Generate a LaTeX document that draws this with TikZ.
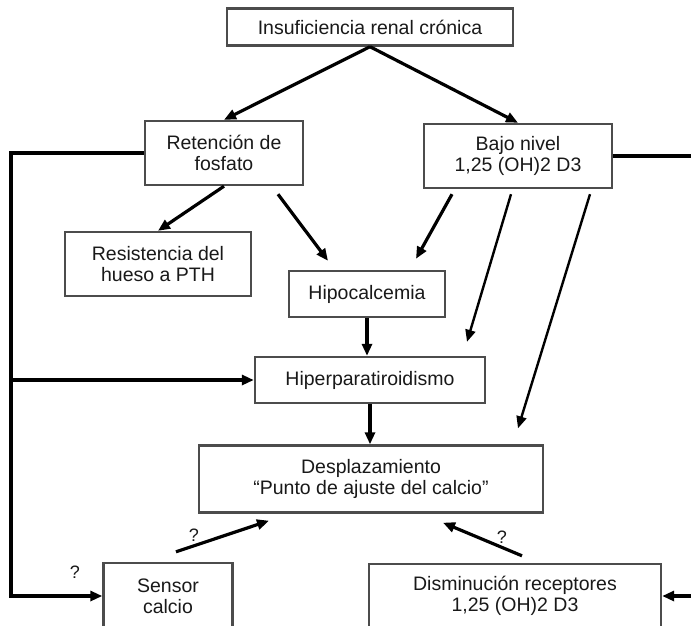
\documentclass[tikz,border=0pt]{standalone}
\usepackage{fontspec}
\setmainfont{Liberation Sans}
\usetikzlibrary{positioning, arrows.meta}

\begin{document}
\begin{tikzpicture}[
    x=1pt, y=-1pt,
    box/.style={draw=black!70, line width=2.4pt, fill=white, align=center, inner sep=0pt,
        text=black!90, font=\fontsize{19.5}{21}\selectfont},
    arr/.style={line width=3.2pt, -{Triangle[length=12pt,width=10pt]}},
    thinarr/.style={line width=2.4pt, -{Triangle[length=12pt,width=10pt]}},
    line/.style={line width=3.2pt},
    qmark/.style={font=\fontsize{18}{18}\selectfont, text=black!90}
]
    \useasboundingbox (0,0) rectangle (691,625);
    \clip (0,0) rectangle (691,625);

    % boxes
    \node[box, minimum width=286pt, minimum height=37pt] (ins) at (370,27) {Insuficiencia renal crónica};
    \node[box, minimum width=158pt, minimum height=64pt] (ret) at (224,153) {Retención de\\fosfato};
    \node[box, minimum width=188pt, minimum height=64pt] (baj) at (518,156) {Bajo nivel\\1,25 (OH)2 D3};
    \node[box, minimum width=186pt, minimum height=64pt] (res) at (158,264) {Resistencia del\\hueso a PTH};
    \node[box, minimum width=156pt, minimum height=46pt] (hipo) at (367,294) {Hipocalcemia};
    \node[box, minimum width=230pt, minimum height=46pt] (hiper) at (370,380) {Hiperparatiroidismo};
    \node[box, minimum width=344pt, minimum height=67pt] (desp) at (371,479) {Desplazamiento\\“Punto de ajuste del calcio”};
    \node[box, minimum width=129pt, minimum height=66pt] (sen) at (168,596) {Sensor\\calcio};
    \node[box, minimum width=292pt, minimum height=64pt] (dis) at (515,596) {Disminución receptores\\1,25 (OH)2 D3};

    % side rails
    \coordinate (lx) at (11,0);
    \coordinate (rx) at (691,0);

    % arrows
    \draw[arr] (ins.south) -- (ret.north);
    \draw[arr] (ins.south) -- (baj.north);
    \draw[arr] (ret.south) -- (res.north);
    \draw[arr] ([shift={(54,8)}]ret.south) -- ([shift={(-39,-9)}]hipo.north);
    \draw[arr] ([shift={(-66,5)}]baj.south) -- ([shift={(49,-11)}]hipo.north);
    \draw[thinarr] ([shift={(-7,5)}]baj.south) -- ([shift={(97,-14)}]hiper.north);
    \draw[thinarr] ([shift={(72,5)}]baj.south) -- ([shift={(147,-16)}]desp.north);
    \draw[arr] (hipo.south) -- (hipo.south |- hiper.north);
    \draw[arr] (hiper.south) -- (hiper.south |- desp.north);
    \draw[arr] ([shift={(8,-10)}]sen.north) -- ([shift={(-102,7)}]desp.south);
    \draw[arr] ([shift={(7,-7)}]dis.north) -- ([shift={(72,9)}]desp.south);

    \draw[arr] (ret.west) -- (ret.west -| lx) -- (sen.west -| lx) -- (sen.west);
    \draw[arr] (hiper.west -| lx) -- (hiper.west);
    \draw[line] (baj.east) -- (baj.east -| rx);
    \draw[arr] (dis.east -| rx) -- (dis.east);

    % question marks
    \node[qmark] (q1) at (194,535) {?};
    \node[qmark] (q2) at (502,537) {?};
    \node[qmark] (q3) at (75,572) {?};
\end{tikzpicture}
\end{document}
